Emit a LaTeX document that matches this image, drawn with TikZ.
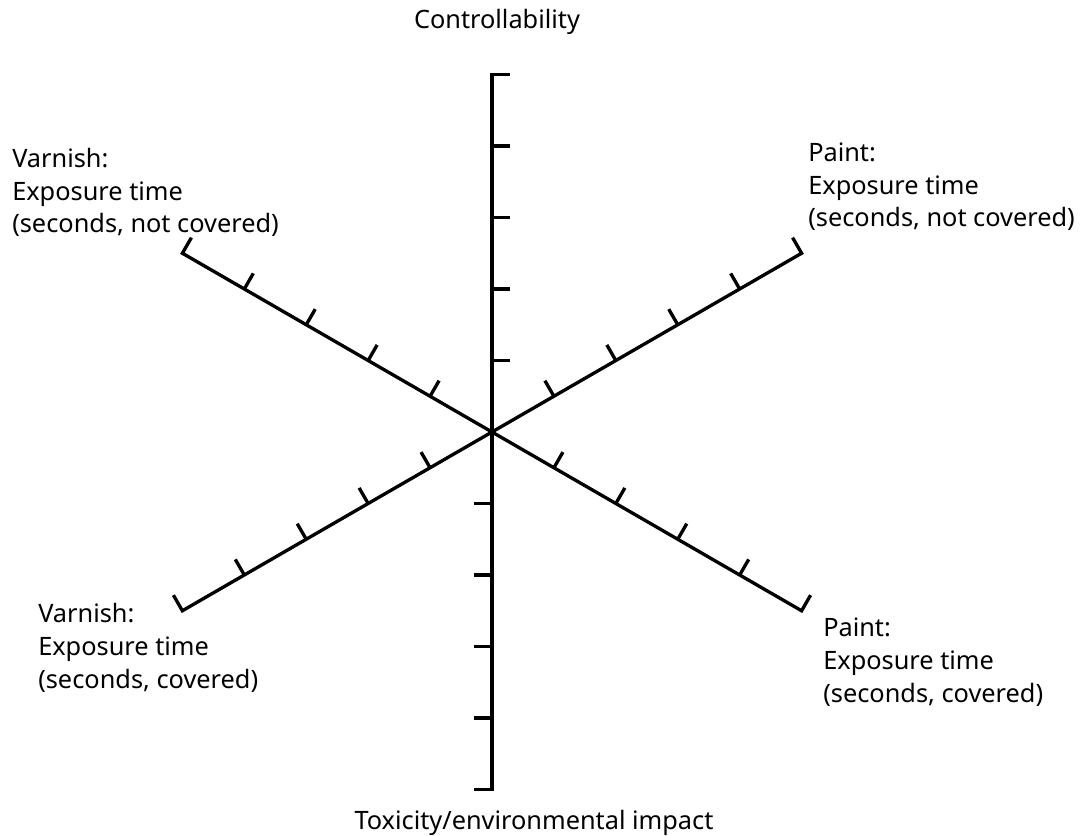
\documentclass[tikz,border=0pt]{standalone}
\usepackage{fontspec}
\setmainfont{Noto Sans}
\usetikzlibrary{positioning}
\tikzset{
  axisline/.style={line width=2.5pt, black},
  axislabel/.style={font=\fontsize{19}{24.4}\selectfont, inner sep=0pt, align=left},
}
\newcommand{\axislen}{357.5}
\newcommand{\tickgap}{71.5}
\newcommand{\ticklen}{18}

\begin{document}
\begin{tikzpicture}[x=0.75pt,y=0.75pt]
\useasboundingbox (-492,-404) rectangle (591,432);
\coordinate (O) at (0,0);
% axes: direction / side of the ticks / name of the end
\foreach \dir/\side/\name in {90/0/ctrl, 270/180/tox, 30/120/pnc, -30/60/pc, 150/60/vnc, 210/120/vc}{
  \draw[axisline] (O) -- (\dir:\axislen) coordinate (\name) -- ++(\side:\ticklen);
  \foreach \k in {1,...,4}{
    \pgfmathsetmacro\r{\k*\tickgap}
    \draw[axisline] (\dir:\r) -- ++(\side:\ticklen);
  }
}
%
% labels (base = last line)
\node[axislabel, anchor=base] (ctrllab) at (5,403) {Controllability};
\node[axislabel, anchor=base] (toxlab) at (42,-397) {Toxicity/environmental impact};
\node[axislabel, anchor=base west] (vnclab) at (-480,199) {Varnish:\\Exposure time\\(seconds, not covered)};
\node[axislabel, anchor=base west] (pnclab) at (316,205) {Paint:\\Exposure time\\(seconds, not covered)};
\node[axislabel, anchor=base west] (vclab) at (-454,-256) {Varnish:\\Exposure time\\(seconds, covered)};
\node[axislabel, anchor=base west] (pclab) at (331,-270) {Paint:\\Exposure time\\(seconds, covered)};
\end{tikzpicture}
\end{document}
